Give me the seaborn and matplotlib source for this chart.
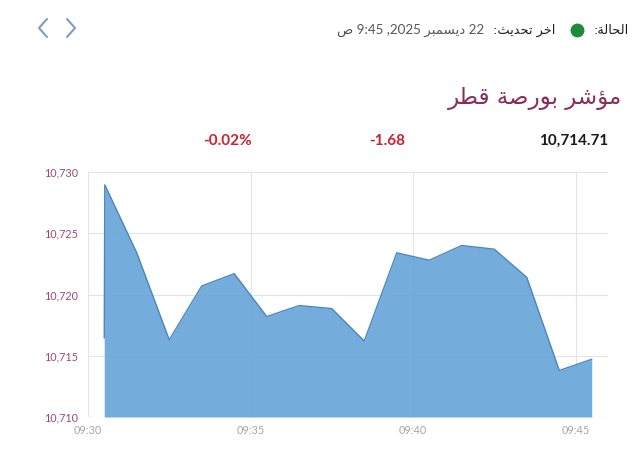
import pandas as pd
import seaborn as sns
import matplotlib.pyplot as plt
from matplotlib.lines import Line2D
from matplotlib.ticker import FuncFormatter

# data
times = ["09:30:30", "09:30:31", "09:31:30", "09:32:30", "09:33:30", "09:34:30",
         "09:35:30", "09:36:30", "09:37:30", "09:38:30", "09:39:30", "09:40:30",
         "09:41:30", "09:42:30", "09:43:30", "09:44:30", "09:45:30"]
values = [10716.45, 10728.95, 10723.4, 10716.3, 10720.7, 10721.7,
          10718.2, 10719.1, 10718.85, 10716.2, 10723.4, 10722.8,
          10724.0, 10723.7, 10721.4, 10713.8, 10714.71]
tick_labels = ["09:30", "09:35", "09:40", "09:45"]
y_ticks = [10710, 10715, 10720, 10725, 10730]

title = "مؤشر بورصة قطر"
status_label = "الحالة:"
update_label = "اخر تحديث:"
update_value = "22 ديسمبر 2025, 9:45 ص"
last_value = "10,714.71"
change = "-1.68"
change_pct = "-0.02%"

# simple arabic shaping (matplotlib has no complex text layout)
FORMS = {
    'ا': ('\uFE8D', '\uFE8E', None, None),
    'ب': ('\uFE8F', '\uFE90', '\uFE91', '\uFE92'),
    'ة': ('\uFE93', '\uFE94', None, None),
    'ت': ('\uFE95', '\uFE96', '\uFE97', '\uFE98'),
    'ث': ('\uFE99', '\uFE9A', '\uFE9B', '\uFE9C'),
    'ح': ('\uFEA1', '\uFEA2', '\uFEA3', '\uFEA4'),
    'خ': ('\uFEA5', '\uFEA6', '\uFEA7', '\uFEA8'),
    'د': ('\uFEA9', '\uFEAA', None, None),
    'ر': ('\uFEAD', '\uFEAE', None, None),
    'س': ('\uFEB1', '\uFEB2', '\uFEB3', '\uFEB4'),
    'ش': ('\uFEB5', '\uFEB6', '\uFEB7', '\uFEB8'),
    'ص': ('\uFEB9', '\uFEBA', '\uFEBB', '\uFEBC'),
    'ط': ('\uFEC1', '\uFEC2', '\uFEC3', '\uFEC4'),
    'ق': ('\uFED5', '\uFED6', '\uFED7', '\uFED8'),
    'ل': ('\uFEDD', '\uFEDE', '\uFEDF', '\uFEE0'),
    'م': ('\uFEE1', '\uFEE2', '\uFEE3', '\uFEE4'),
    'و': ('\uFEED', '\uFEEE', None, None),
    'ي': ('\uFEF1', '\uFEF2', '\uFEF3', '\uFEF4'),
    'ؤ': ('\uFE85', '\uFE86', None, None),
}


def shape_word(word):
    out = []
    for i, ch in enumerate(word):
        if ch not in FORMS:
            out.append(ch)
            continue
        prev = word[i - 1] if i > 0 else ''
        nxt = word[i + 1] if i + 1 < len(word) else ''
        jp = prev in FORMS and FORMS[prev][2] is not None
        jn = FORMS[ch][2] is not None and nxt in FORMS
        iso, fin, ini, med = FORMS[ch]
        if jp and jn:
            out.append(med)
        elif jp:
            out.append(fin)
        elif jn:
            out.append(ini)
        else:
            out.append(iso)
    return ''.join(out)


def rtl(text):
    vis = []
    for t in reversed(text.split(' ')):
        if any(c in FORMS for c in t):
            vis.append(shape_word(t)[::-1])
        else:
            core = t.rstrip(',:')
            vis.append(t[len(core):] + core)
    return ' '.join(vis)


minutes = (pd.to_timedelta(times) - pd.Timedelta("09:30:00")).total_seconds() / 60
df = pd.DataFrame({'t': minutes, 'v': values})

sns.set_theme(style="white")
plt.rcParams['font.family'] = ['Lato', 'DejaVu Sans']

fig = plt.figure(figsize=(6.4, 4.67), dpi=100)
ax = fig.add_axes([88 / 640, 50 / 467, 520 / 640, 245 / 467])

ax.fill_between(df['t'], df['v'], y_ticks[0], color='#65a3d9', alpha=0.9,
                linewidth=0, zorder=2)
sns.lineplot(data=df, x='t', y='v', estimator=None, sort=False, ax=ax,
             color='#4a86bf', linewidth=1, zorder=3)

ax.set_xlim(0, 16)
ax.set_ylim(y_ticks[0], y_ticks[-1])
ax.set_xticks([0, 5, 10, 15])
ax.set_xticklabels(tick_labels)
ax.set_yticks(y_ticks)
ax.yaxis.set_major_formatter(FuncFormatter(lambda v, p: f"{int(v):,}"))
ax.set_xlabel('')
ax.set_ylabel('')
for s in ax.spines.values():
    s.set_visible(False)
ax.grid(True, color='#e4e4e4', linewidth=0.8, zorder=1)
ax.set_axisbelow(True)
ax.tick_params(axis='y', length=0, pad=7, labelsize=7.8, labelcolor='#9b4a73')
ax.tick_params(axis='x', length=0, pad=6, labelsize=7.8, labelcolor='#a5a5a5')

# header
ar = ['DejaVu Sans']
fig.text(622 / 640, 1 - 98 / 467, rtl(title), ha='right', va='center',
         fontsize=16.5, color='#8a2d5b', family=ar)
fig.text(608 / 640, 1 - 141 / 467, last_value, ha='right', va='center',
         fontsize=11, fontweight='bold', color='#1a1a1a')
fig.text(387 / 640, 1 - 141 / 467, change, ha='center', va='center',
         fontsize=11, fontweight='bold', color='#d21f2e')
fig.text(228 / 640, 1 - 141 / 467, change_pct, ha='center', va='center',
         fontsize=11, fontweight='bold', color='#d21f2e')

fig.text(629 / 640, 1 - 30 / 467, rtl(status_label), ha='right', va='center',
         fontsize=9.3, color='#1e1e1e', family=ar)
fig.add_artist(Line2D([577 / 640], [1 - 30 / 467], marker='o', markersize=9,
                      color='#1b8c3c', transform=fig.transFigure))
fig.text(555 / 640, 1 - 30 / 467, rtl(update_label), ha='right', va='center',
         fontsize=9.3, color='#1e1e1e', family=ar)
fig.text(484 / 640, 1 - 30 / 467, rtl(update_value), ha='right', va='center',
         fontsize=9.6, color='#555555', family=['Lato', 'DejaVu Sans'])

# navigation chevrons
for xs in ([47, 39, 47], [67, 75, 67]):
    fig.add_artist(Line2D([x / 640 for x in xs],
                          [1 - y / 467 for y in (19, 28, 37)],
                          color='#7d9bc4', linewidth=1.5,
                          transform=fig.transFigure))

fig.savefig('out.png', dpi=100)
